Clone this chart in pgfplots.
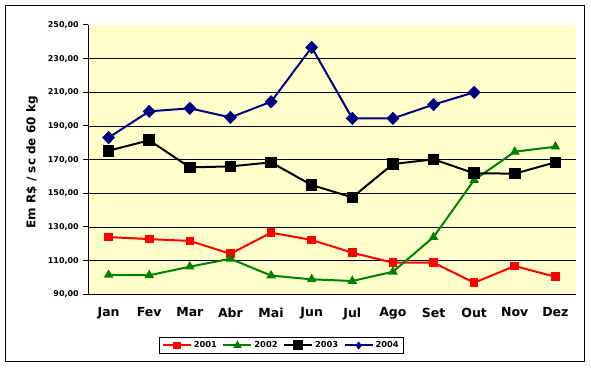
\documentclass[border=0pt]{standalone}
\usepackage{pgfplots}
\pgfplotsset{compat=1.18}
\usepackage{fontspec}
\setmainfont{DejaVu Sans}
\definecolor{bgyellow}{HTML}{FFFFCC}
\definecolor{xlred}{HTML}{FF0000}
\definecolor{xlgreen}{HTML}{008000}
\definecolor{xlnavy}{HTML}{000080}
\begin{document}
\begin{tikzpicture}[x=1pt,y=1pt]
\fill[white] (0,0) rectangle (591,367);
\draw[black, line width=1pt] (5.7,6) rectangle (584.7,361.7);
\begin{axis}[
  at={(88.3pt,72.7pt)}, anchor=south west,
  scale only axis, width=487.4pt, height=269.3pt,
  xmin=0.5, xmax=12.5, ymin=90, ymax=250,
  axis background/.style={fill=bgyellow},
  axis x line*=bottom, axis y line*=left,
  axis line style={line width=1pt},
  xtick={1,...,12},
  xticklabels={Jan,Fev,Mar,Abr,Mai,Jun,Jul,Ago,Set,Out,Nov,Dez},
  x tick style={draw=none},
  extra x ticks={0.5,1.5,...,12.5},
  extra x tick labels={},
  extra x tick style={tick style={draw=black, line width=1pt}, major tick length=4pt},
  ytick={90,110,...,230},
  extra y ticks={250},
  extra y tick style={grid=none},
  ymajorgrids,
  grid style={black, line width=0.9pt},
  y tick style={black, line width=1pt},
  major tick length=5pt,
  tick align=outside,
  /pgf/number format/.cd, fixed, fixed zerofill, precision=2, use comma, 1000 sep={}, assume math mode=true,
  /pgfplots/.cd,
  yticklabel style={font=\bfseries\fontsize{8}{9}\selectfont, xshift=-1pt},
  xticklabel style={font=\bfseries\fontsize{12.5}{13}\selectfont, yshift=-5pt},
  ylabel={Em R\$ / sc de 60 kg},
  ylabel style={font=\bfseries\fontsize{12}{13}\selectfont, at={(axis description cs:-0.1155,0.49)}, anchor=center},
  legend columns=4,
  legend style={at={(axis description cs:0.396,-0.190)}, anchor=center, draw=black, line width=1pt,
    font=\bfseries\fontsize{8.3}{10}\selectfont, inner sep=2.5pt,
    /tikz/every even column/.append style={column sep=3.5pt}},
  legend image code/.code={\draw[#1] (0pt,0pt) -- (28pt,0pt); \draw[#1] plot coordinates {(14pt,0pt)};},
]
\addplot[xlred, line width=2pt, mark=square*, mark size=3.3pt, forget plot] coordinates {
(1,124.0) (2,122.8) (3,121.7) (4,114.1) (5,126.6) (6,122.3) (7,114.7) (8,108.8) (9,108.8) (10,96.9) (11,106.8) (12,100.4)};
\addplot[xlgreen, line width=2pt, mark=triangle*, mark size=3.6pt, forget plot] coordinates {
(1,101.5) (2,101.3) (3,106.4) (4,111.1) (5,101.1) (6,98.9) (7,97.9) (8,103.4) (9,124.0) (10,157.9) (11,174.7) (12,177.7)};
\addplot[black, line width=2pt, mark=square*, mark size=4.8pt, forget plot] coordinates {
(1,175.3) (2,181.5) (3,165.4) (4,166.0) (5,168.4) (6,154.9) (7,147.6) (8,167.4) (9,170.2) (10,161.9) (11,161.7) (12,168.4)};
\addplot[xlnavy, line width=2pt, mark=diamond*, mark size=5.2pt, mark options={xscale=1.3}, forget plot] coordinates {
(1,183.1) (2,198.7) (3,200.5) (4,195.1) (5,204.4) (6,236.7) (7,194.5) (8,194.5) (9,202.7) (10,210.0)};
\addlegendimage{xlred, line width=2pt, mark=square*, mark size=2.8pt}
\addlegendentry{2001}
\addlegendimage{xlgreen, line width=2pt, mark=triangle*, mark size=3pt}
\addlegendentry{2002}
\addlegendimage{black, line width=2pt, mark=square*, mark size=4pt}
\addlegendentry{2003}
\addlegendimage{xlnavy, line width=2pt, mark=diamond*, mark size=2.5pt}
\addlegendentry{2004}
\end{axis}
\end{tikzpicture}
\end{document}
